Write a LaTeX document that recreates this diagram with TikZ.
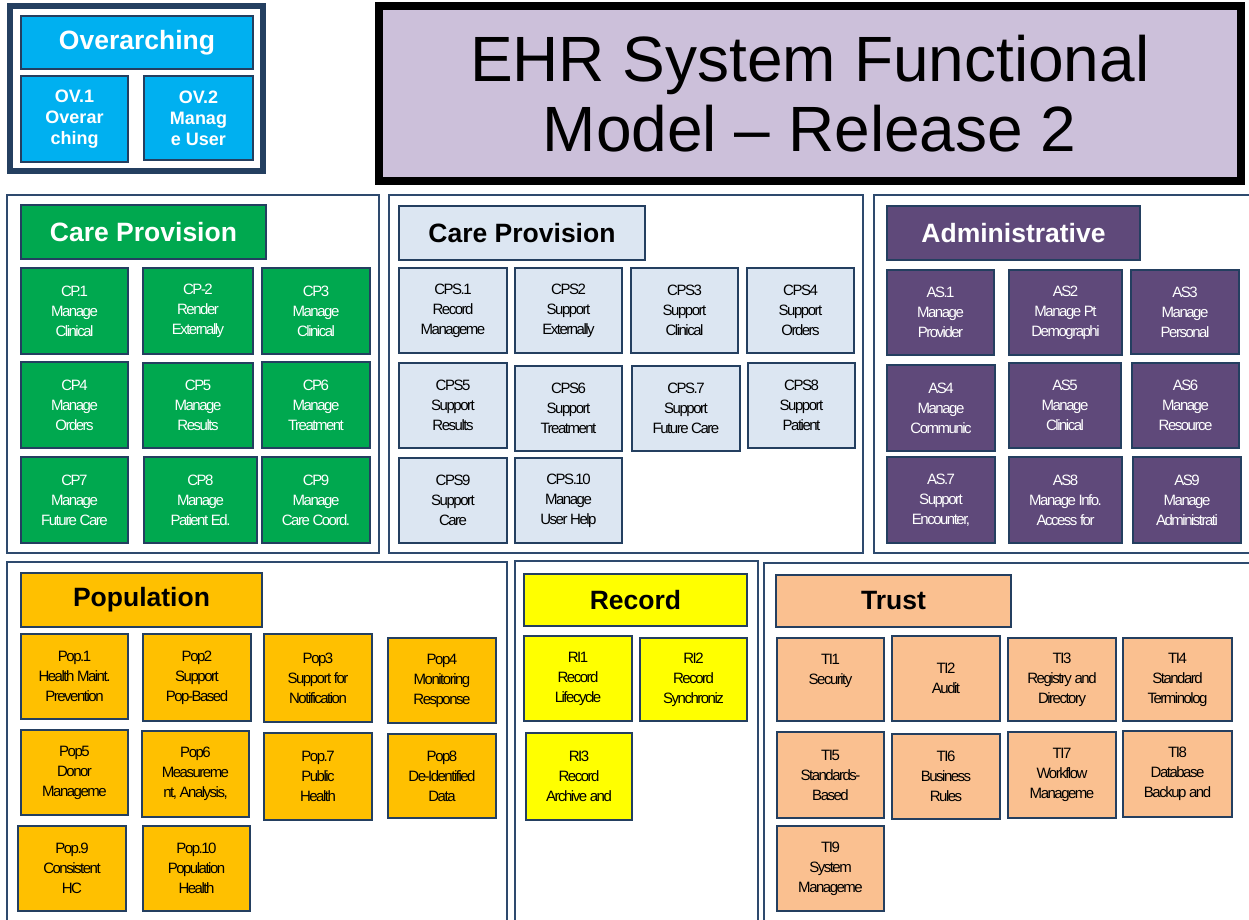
\documentclass[tikz,border=0pt]{standalone}
\usepackage{fontspec}
\setmainfont{Liberation Sans}
\newfontfamily\condfont[LetterSpace=-10]{Liberation Sans}

\definecolor{edge}{HTML}{243F60}
\definecolor{frameline}{HTML}{2E4A6E}
\definecolor{ovcyan}{HTML}{00B0F0}
\definecolor{cpgreen}{HTML}{00A84F}
\definecolor{cpsblue}{HTML}{DCE6F2}
\definecolor{aspurple}{HTML}{5F497A}
\definecolor{poporange}{HTML}{FFC000}
\definecolor{riyellow}{HTML}{FFFF00}
\definecolor{tipeach}{HTML}{FAC090}
\definecolor{titlelav}{HTML}{CCC0DA}

\tikzset{
  frame/.style={draw=frameline, line width=2pt},
  head/.style={draw=edge, line width=2.5pt, inner sep=0pt,
    font=\fontsize{26.5}{30}\selectfont\bfseries},
  sub/.style={draw=edge, line width=2.5pt, inner sep=0pt, align=center,
    font={\condfont\fontsize{15}{20}\selectfont}},
  ovsub/.style={draw=edge, line width=2.5pt, inner sep=0pt, align=center,
    fill=ovcyan, text=white, font=\fontsize{18}{21}\selectfont\bfseries},
  cp/.style={sub, fill=cpgreen, text=white},
  cps/.style={sub, fill=cpsblue, text=black},
  as/.style={sub, fill=aspurple, text=white},
  pop/.style={sub, fill=poporange, text=black},
  ri/.style={sub, fill=riyellow, text=black},
  ti/.style={sub, fill=tipeach, text=black},
}

% box from its corners: name, x1, y1, x2, y2, style, text
\newcommand\bx[7]{\node[#6, minimum width={(#4-#2)*1pt}, minimum height={(#5-#3)*1pt}]
  (#1) at ({(#2+#4)/2},{(#3+#5)/2}) {#7};}

\begin{document}
\begin{tikzpicture}[x=1pt, y=-1pt]
\useasboundingbox (0,0) rectangle (1249,919);
\clip (0,0) rectangle (1249,919);
\fill[white] (0,0) rectangle (1249,919);

% ---- Overarching ----
\draw[edge, line width=6pt, fill=white] (9.5,6) rectangle (263,171);
\bx{ovh}{21}{16}{253}{69}{head, fill=ovcyan, text=white}{Overarching}
\bx{ov1}{21}{76}{128}{162}{ovsub}{OV.1\\Overar\\ching}
\bx{ov2}{144}{76}{253}{160}{ovsub}{OV.2\\Manag\\e User}

% ---- Title ----
\bx{title}{378.5}{6}{1241}{180.5}{draw=black, line width=8pt, fill=titlelav, align=center,
  inner sep=0pt, font=\fontsize{64}{70}\selectfont}{EHR System Functional\\Model -- Release 2}

% ---- Section frames ----
\draw[frame] (7,195) rectangle (379,553);
\draw[frame] (389,195) rectangle (863,553);
\draw[frame] (874,195) rectangle (1260,553);
\draw[frame] (7,562) rectangle (507,930);
\draw[frame] (515,561) rectangle (758,930);
\draw[frame] (764,563) rectangle (1260,930);

% ---- Care Provision (green) ----
\bx{cph}{21}{205}{266}{259}{head, fill=cpgreen, text=white}{Care Provision}
\bx{cp1}{21}{268}{128}{354}{cp}{CP.1\\Manage\\Clinical}
\bx{cp2}{143}{268}{253}{354}{cp}{CP-2\\Render\\Externally}
\bx{cp3}{262}{268}{370}{354}{cp}{CP3\\Manage\\Clinical}
\bx{cp4}{21}{362}{128}{448}{cp}{CP4\\Manage\\Orders}
\bx{cp5}{143}{363}{253}{448}{cp}{CP5\\Manage\\Results}
\bx{cp6}{262}{362}{370}{448}{cp}{CP6\\Manage\\Treatment}
\bx{cp7}{21}{457}{128}{543}{cp}{CP7\\Manage\\Future Care}
\bx{cp8}{144}{457}{257}{543}{cp}{CP8\\Manage\\Patient Ed.}
\bx{cp9}{262}{457}{370}{543}{cp}{CP9\\Manage\\Care Coord.}

% ---- Care Provision Support (light blue) ----
\bx{cpsh}{399}{206}{645}{260}{head, fill=cpsblue, text=black}{Care Provision}
\bx{cps1}{399}{268}{507}{353}{cps}{CPS.1\\Record\\Manageme}
\bx{cps2}{515}{268}{622}{353}{cps}{CPS2\\Support\\Externally}
\bx{cps3}{631}{268}{738}{353}{cps}{CPS3\\Support\\Clinical}
\bx{cps4}{747}{268}{854}{353}{cps}{CPS4\\Support\\Orders}
\bx{cps5}{399}{363}{507}{448}{cps}{CPS5\\Support\\Results}
\bx{cps6}{515}{366}{622}{451}{cps}{CPS6\\Support\\Treatment}
\bx{cps7}{632}{366}{740}{451}{cps}{CPS.7\\Support\\Future Care}
\bx{cps8}{748}{363}{855}{448}{cps}{CPS8\\Support\\Patient}
\bx{cps9}{399}{458}{507}{543}{cps}{CPS9\\Support\\Care}
\bx{cps10}{515}{458}{622}{543}{cps}{CPS.10\\Manage\\User Help}

% ---- Administrative ----
\bx{ash}{887}{206}{1140}{260}{head, fill=aspurple, text=white}{Administrative}
\bx{as1}{887}{270}{994}{355}{as}{AS.1\\Manage\\Provider}
\bx{as2}{1009}{270}{1122}{355}{as}{AS2\\Manage Pt\\Demographi}
\bx{as3}{1131}{270}{1239}{354}{as}{AS3\\Manage\\Personal}
\bx{as4}{887}{365}{995}{451}{as}{AS4\\Manage\\Communic}
\bx{as5}{1009}{363}{1121}{448}{as}{AS5\\Manage\\Clinical}
\bx{as6}{1132}{363}{1239}{448}{as}{AS6\\Manage\\Resource}
\bx{as7}{887}{457}{995}{543}{as}{AS.7\\Support\\Encounter,}
\bx{as8}{1009}{457}{1122}{543}{as}{AS8\\Manage Info.\\Access for}
\bx{as9}{1133}{457}{1241}{543}{as}{AS9\\Manage\\Administrati}

% ---- Population ----
\bx{poph}{21}{573}{262}{627}{head, fill=poporange, text=black}{Population}
\bx{pop1}{21}{634}{128}{719}{pop}{Pop.1\\Health Maint.\\Prevention}
\bx{pop2}{143}{634}{251}{721}{pop}{Pop2\\Support\\Pop-Based}
\bx{pop3}{264}{634}{372}{722}{pop}{Pop3\\Support for\\Notification}
\bx{pop4}{388}{638}{496}{723}{pop}{Pop4\\Monitoring\\Response}
\bx{pop5}{21}{730}{128}{815}{pop}{Pop5\\Donor\\Manageme}
\bx{pop6}{142}{731}{249}{817}{pop}{Pop6\\Measureme\\nt, Analysis,}
\bx{pop7}{264}{733}{372}{820}{pop}{Pop.7\\Public\\Health}
\bx{pop8}{388}{734}{496}{818}{pop}{Pop8\\De-Identified\\Data}
\bx{pop9}{18}{826}{126}{911}{pop}{Pop.9\\Consistent\\HC}
\bx{pop10}{143}{826}{250}{911}{pop}{Pop.10\\Population\\Health}

% ---- Record ----
\bx{rih}{524}{574}{747}{626}{head, fill=riyellow, text=black}{Record}
\bx{ri1}{524}{636}{632}{721}{ri}{RI1\\Record\\Lifecycle}
\bx{ri2}{640}{638}{747}{721}{ri}{RI2\\Record\\Synchroniz}
\bx{ri3}{526}{733}{632}{820}{ri}{RI3\\Record\\Archive and}

% ---- Trust ----
\bx{tih}{776}{575}{1011}{627}{head, fill=tipeach, text=black}{Trust}
\bx{ti1}{777}{638}{884}{721}{ti}{TI1\\Security\\\mbox{}}
\bx{ti2}{892}{636}{1000}{721}{ti}{TI2\\Audit}
\bx{ti3}{1008}{638}{1116}{721}{ti}{TI3\\Registry and\\Directory}
\bx{ti4}{1123}{638}{1232}{721}{ti}{TI4\\Standard\\Terminolog}
\bx{ti5}{777}{732}{884}{818}{ti}{TI5\\Standards-\\Based}
\bx{ti6}{892}{734}{1000}{819}{ti}{TI6\\Business\\Rules}
\bx{ti7}{1008}{732}{1116}{818}{ti}{TI7\\Workflow\\Manageme}
\bx{ti8}{1123}{731}{1232}{817}{ti}{TI8\\Database\\Backup and}
\bx{ti9}{777}{826}{884}{911}{ti}{TI9\\System\\Manageme}
\end{tikzpicture}
\end{document}
